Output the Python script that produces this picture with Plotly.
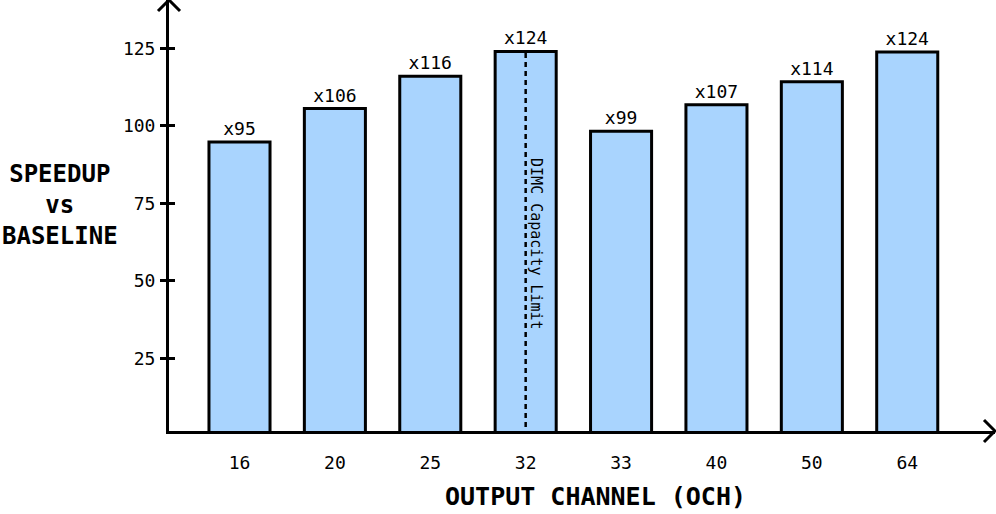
import plotly.graph_objects as go

categories = ["16", "20", "25", "32", "33", "40", "50", "64"]
speedup = [94.8, 105.6, 116.0, 124.0, 98.3, 106.8, 114.2, 123.8]
labels = ["x95", "x106", "x116", "x124", "x99", "x107", "x114", "x124"]
y_ticks = [25, 50, 75, 100, 125]
limit_category = "32"
limit_text = "DIMC Capacity Limit"

FONT = "DejaVu Sans Mono"
W, H = 996, 514
ML, MR, MT, MB = 169, 1, 0, 83
PW, PH = W - ML - MR, H - MT - MB

idx = list(range(len(categories)))
limit_idx = categories.index(limit_category)

fig = go.Figure()
fig.add_trace(go.Bar(
    x=idx, y=speedup, width=0.64,
    marker=dict(color="#A9D4FE", line=dict(color="black", width=3)),
    text=labels, textposition="outside",
    textfont=dict(family=FONT, size=18, color="black"),
    cliponaxis=False, hoverinfo="skip",
))
fig.add_trace(go.Scatter(x=[0], y=[0], yaxis="y2", mode="markers",
                         marker=dict(opacity=0), hoverinfo="skip", showlegend=False))

yr = [1.6, 140.6]
fig.update_layout(
    width=W, height=H,
    margin=dict(l=ML, r=MR, t=MT, b=MB),
    plot_bgcolor="white", paper_bgcolor="white",
    showlegend=False,
    font=dict(family=FONT, color="black"),
    xaxis=dict(
        range=[-0.739, 7.92], tickmode="array", tickvals=idx, ticktext=categories,
        showline=True, linecolor="black", linewidth=3, showgrid=False, zeroline=False,
        ticks="", ticklabelstandoff=13, tickfont=dict(family=FONT, size=18),
    ),
    yaxis=dict(
        range=yr, tickmode="array", tickvals=y_ticks,
        showline=True, linecolor="black", linewidth=3, showgrid=False, zeroline=False,
        ticks="outside", ticklen=6, tickwidth=3, tickcolor="black",
        ticklabelstandoff=1, tickfont=dict(family=FONT, size=18),
    ),
    yaxis2=dict(
        range=yr, overlaying="y", side="left", tickmode="array", tickvals=y_ticks,
        showticklabels=False, ticks="inside", ticklen=6, tickwidth=3, tickcolor="black",
        showline=False, showgrid=False, zeroline=False,
    ),
)

fig.add_shape(type="line", xref="x", yref="y", x0=limit_idx, x1=limit_idx,
              y0=0, y1=speedup[limit_idx], line=dict(color="black", width=2.5, dash="5px,4px"))
fig.add_annotation(x=limit_idx, y=speedup[limit_idx] * 0.5, xref="x", yref="y",
                   text=limit_text, textangle=90, showarrow=False, xshift=11,
                   font=dict(family=FONT, size=15, color="black"))

ax = 11 / PW
ay = 11 / PH
fig.add_shape(type="path", xref="paper", yref="paper",
              path=f"M {-ax} {1-ay} L 0 1 L {ax} {1-ay}",
              line=dict(color="black", width=3))
fig.add_shape(type="path", xref="paper", yref="paper",
              path=f"M {1-ax} {ay} L 1 0 L {1-ax} {-ay}",
              line=dict(color="black", width=3))

fig.add_annotation(text="<b>SPEEDUP</b><br><b>vs</b><br><b>BASELINE</b>",
                   xref="paper", yref="paper", x=-(ML - 60) / PW, y=1 - (205 - MT) / PH,
                   xanchor="center", yanchor="middle", showarrow=False, align="center",
                   font=dict(family=FONT, size=24, color="black"))
fig.add_annotation(text="<b>OUTPUT CHANNEL (OCH)</b>",
                   xref="paper", yref="paper", x=(595 - ML) / PW, y=-(497 - MT - PH) / PH,
                   xanchor="center", yanchor="middle", showarrow=False,
                   font=dict(family=FONT, size=25, color="black"))

fig.write_html("out.html", config={"displayModeBar": False},
               post_script="document.body.style.margin='0';")
